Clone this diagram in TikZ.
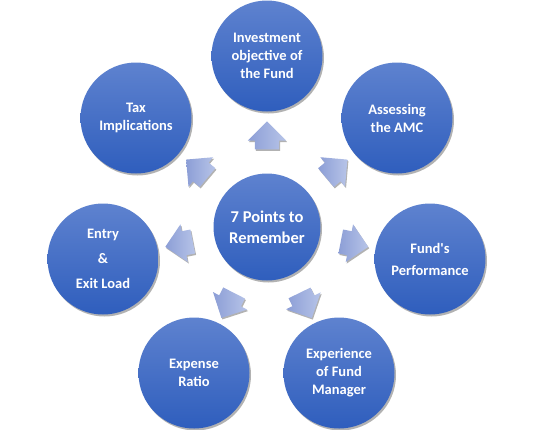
\documentclass[tikz,border=0pt]{standalone}
\usepackage{fontspec}
\setmainfont{Carlito}
\usetikzlibrary{calc,shapes.arrows,shadows}
\definecolor{balltop}{HTML}{5E82CF}
\definecolor{ballbot}{HTML}{2F5EBD}
\definecolor{arrtop}{HTML}{B7C4E8}
\definecolor{arrbot}{HTML}{8C9ED6}
\tikzset{
 ball/.style={circle, minimum size=111pt, inner sep=0pt, align=center, text=white,
   font=\bfseries\fontsize{14.5}{18}\selectfont, top color=balltop, bottom color=ballbot,
   drop shadow={shadow xshift=1.5pt, shadow yshift=-2pt, opacity=0.3, fill=black}},
 blockarrow/.style={single arrow, single arrow head extend=7pt, inner xsep=0pt,
   inner ysep=12pt, minimum height=28pt, left color=arrbot, right color=arrtop,
   drop shadow={shadow xshift=1pt, shadow yshift=-1.5pt, opacity=0.3, fill=black}}
}
\begin{document}
\begin{tikzpicture}[x=1pt, y=-1pt]
 \useasboundingbox (0,0) rectangle (534,429);
 \node[ball, minimum size=107pt, font=\bfseries\fontsize{16.5}{21}\selectfont] (hub) at (267,227) {7 Points to\\Remember};
 \node[ball] (invest) at (267,56) {Investment\\objective of\\the Fund};
 \node[ball] (amc) at (397,118) {Assessing\\the AMC};
 \node[ball] (perf) at (430,259) {Fund\textquotesingle s\\[4pt]Performance};
 \node[ball] (exper) at (339,373) {Experience\\of Fund\\Manager};
 \node[ball] (expense) at (194,373) {Expense\\Ratio};
 \node[ball] (entry) at (103,259) {Entry\\[7pt]\&\\[7pt]Exit Load};
 \node[ball] (tax) at (136,118) {Tax\\Implications};
 % arrows out of the hub
 \foreach \n/\a in {invest/90, amc/40, perf/-11, exper/-64, expense/-117, entry/191, tax/140}
  \node[blockarrow, rotate=\a] (arr-\n) at ($(hub)!0.5!(\n)$) {};
\end{tikzpicture}
\end{document}
